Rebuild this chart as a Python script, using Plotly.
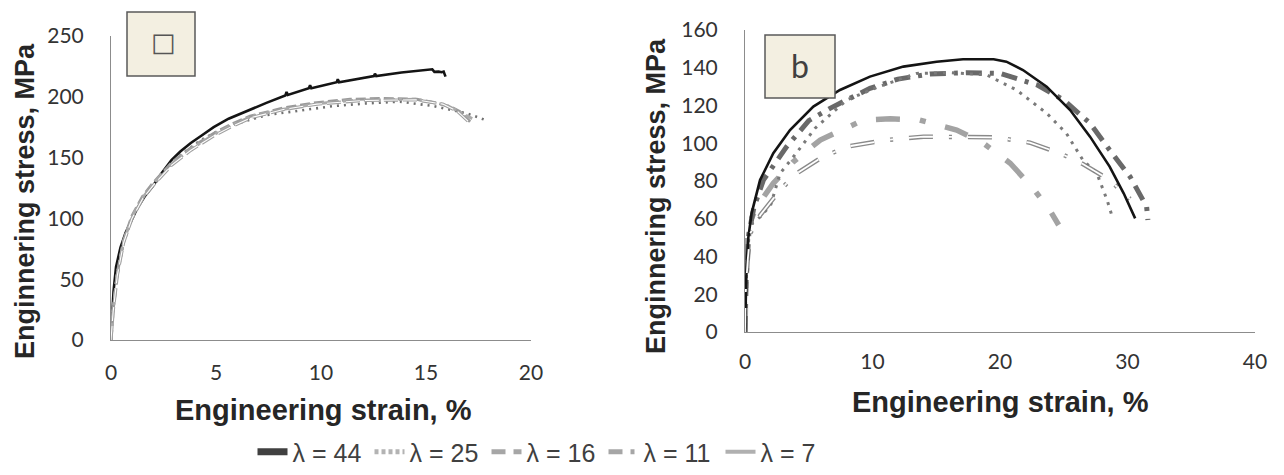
import plotly.graph_objects as go

# ---------------- data: panel (a) ----------------
a44_x = [0, 0.05, 0.12, 0.24, 0.45, 0.69, 1.0, 1.24, 1.6, 1.97, 2.4, 2.88, 3.3, 3.8, 4.3, 4.89, 5.6, 6.53, 7.4,
         8.3, 8.36, 8.42, 9.42, 9.48, 9.54, 10.75, 10.8, 10.86, 12.0, 12.52, 12.57, 12.63, 13.83, 14.6, 15.1,
         15.3, 15.4, 15.6, 15.75, 15.84, 15.93]
a44_y = [0, 20, 40, 60, 76, 88, 99, 108, 118, 126, 137, 148, 155, 162, 168, 175, 182, 189, 195,
         201, 204, 201.5, 207, 209.5, 207, 212, 214.5, 212, 215.5, 217, 219, 217, 220, 221.5, 222.6,
         222.6, 220.5, 220.7, 220.2, 220.7, 216.6]

a25_x = [0, 0.1, 0.3, 0.6, 1.0, 1.5, 2.0, 2.65, 3.3, 4.24, 5.0, 5.81, 7.41, 9.0, 10.6, 12.18, 13.76, 15.35,
         16.3, 16.94, 17.5, 17.9]
a25_y = [0, 25, 55, 80, 100, 116, 127, 140, 152, 164, 171, 177, 185, 189, 192.4, 194.6, 196, 192.4,
         189, 186.4, 183, 180.4]

a16_x = [0, 0.1, 0.3, 0.6, 1.0, 1.5, 2.0, 2.9, 3.8, 4.9, 5.8, 6.62, 8.21, 9.8, 11.38, 12.97, 14.56, 15.5,
         16.14, 16.6, 17.1]
a16_y = [0, 25, 55, 82, 102, 118, 129, 146, 158, 170, 178, 184, 190.8, 195.2, 197.9, 198.7, 197.9, 195,
         191.9, 188, 179.5]

a11_x = [0, 0.1, 0.3, 0.6, 1.0, 1.5, 2.0, 2.9, 3.8, 4.9, 5.8, 6.8, 8.3, 9.9, 11.4, 12.5, 14.5, 16.0,
         16.8, 17.2]
a11_y = [0, 24, 54, 81, 101, 117, 128, 145, 157, 169, 177, 184.5, 190, 194.5, 197, 197.5, 198, 193,
         186, 182]

a7_x = [0, 0.1, 0.3, 0.6, 1.0, 1.5, 2.0, 2.9, 3.8, 4.9, 5.8, 6.7, 8.2, 9.8, 12.0, 14.5, 15.8, 16.5, 17.0]
a7_y = [0, 23, 53, 80, 100, 116, 127, 144, 156, 168, 176, 183, 189.5, 194, 197, 197.5, 194, 188, 180]

# ---------------- data: panel (b) ----------------
b44_x = [0, 0.05, 0.13, 0.26, 0.52, 1.18, 2.22, 3.53, 5.36, 7.45, 9.8, 12.42, 15.03, 17.1, 19.5, 20.5,
         21.8, 23.66, 25.5, 27.06, 28.6, 29.7, 30.6]
b44_y = [0, 20, 36, 50, 63, 80.5, 94.7, 107, 119.4, 128.2, 135.3, 140.6, 143.2, 144.5, 144.5, 143.2,
         138.8, 130, 117.6, 103.5, 87.6, 73.5, 60.2]

b25_x = [0, 0.1, 0.3, 0.6, 1.2, 2.0, 2.75, 4.05, 5.5, 7.97, 10.5, 13.47, 16.1, 18.96, 21.3, 23.66, 25.2,
         26.5, 27.6, 28.4, 28.8]
b25_y = [0, 30, 50, 58, 61, 67, 84, 95, 108, 122.9, 130, 137, 137.4, 136.2, 128.2, 115.9, 105.3,
         91.1, 84, 69.9, 61.1]

b16_x = [0, 0.1, 0.3, 0.7, 1.44, 3.27, 5.0, 6.67, 9.8, 12.0, 14.5, 17.4, 20.0, 22.9, 25.0, 27.06, 28.6,
         30.2, 31.5, 31.6]
b16_y = [0, 30, 52, 66, 80.5, 98.2, 112, 118.5, 129.1, 134, 136.7, 137.4, 137, 130.9, 122.9, 110.6,
         96.4, 82.3, 66.4, 59.3]

b11_x = [0, 0.05, 0.13, 0.5, 0.92, 2.22, 3.79, 5.9, 9.28, 11.4, 13.7, 16.6, 18.7, 20.8, 22.6, 23.9, 24.6]
b11_y = [0, 25, 52, 60, 66.4, 78.8, 90.2, 101.7, 112.3, 113, 112.3, 107, 100, 89.4, 76.1, 64.6, 56.7]

b7_x = [0, 0.05, 0.2, 0.39, 1.2, 2.75, 4.05, 5.9, 7.97, 11.1, 14.0, 17.1, 19.7, 22.35, 24.7, 26.5,
        28.6, 30.2]
b7_y = [0, 20, 37, 52, 62, 75.2, 84, 92, 98.2, 101.7, 103.5, 103.1, 103.1, 100.3, 94.7, 89, 80.5, 70.5]

legend_names = ["λ = 44", "λ = 25", "λ = 16", "λ = 11", "λ = 7"]
a_ticks_x = [0, 5, 10, 15, 20]
a_ticks_y = [0, 50, 100, 150, 200, 250]
b_ticks_x = [0, 10, 20, 30, 40]
b_ticks_y = [0, 20, 40, 60, 80, 100, 120, 140, 160]

W, H = 1284, 475
OFF = 8  # page body margin offset


def px(x):
    return (x - OFF) / W


def py(y):
    return 1 - (y - OFF) / H


fig = go.Figure()

# panel a styles
a_styles = [
    (a44_x, a44_y, dict(color="#141414", width=2.6)),
    (a25_x, a25_y, dict(color="#707070", width=2.6, dash="2px,5px")),
    (a16_x, a16_y, dict(color="#9a9a9a", width=3, dash="10px,4px")),
    (a11_x, a11_y, dict(color="#ababab", width=3, dash="10px,4px,3px,4px")),
    (a7_x, a7_y, dict(color="#a0a0a0", width=3.2, dash="14px,5px")),
]
for xs, ys, ln in a_styles:
    fig.add_trace(go.Scatter(x=xs, y=ys, mode="lines", line=ln, showlegend=False,
                             xaxis="x", yaxis="y", hoverinfo="skip"))
fig.add_trace(go.Scatter(x=a7_x, y=a7_y, mode="lines", line=dict(color="white", width=1.1, dash="14px,5px"),
                         showlegend=False, xaxis="x", yaxis="y", hoverinfo="skip"))

# panel b styles
b_styles = [
    (b7_x, b7_y, dict(color="#8a8a8a", width=4.5, dash="24px,16px,3px,16px")),
    (b11_x, b11_y, dict(color="#a3a3a3", width=5.5, dash="24px,20px,6px,20px")),
    (b16_x, b16_y, dict(color="#696969", width=5, dash="16px,8px,4px,8px")),
    (b25_x, b25_y, dict(color="#7a7a7a", width=3, dash="3px,6px")),
    (b44_x, b44_y, dict(color="#141414", width=2.6)),
]
for xs, ys, ln in b_styles:
    fig.add_trace(go.Scatter(x=xs, y=ys, mode="lines", line=ln, showlegend=False,
                             xaxis="x2", yaxis="y2", hoverinfo="skip"))
fig.add_trace(go.Scatter(x=b7_x, y=b7_y, mode="lines",
                         line=dict(color="white", width=1.8, dash="24px,16px,3px,16px"),
                         showlegend=False, xaxis="x2", yaxis="y2", hoverinfo="skip"))

# legend-only entries
leg_lines = [
    dict(color="#404040", width=7),
    dict(color="#b3b3b3", width=5, dash="4px,3px"),
    dict(color="#a6a6a6", width=5, dash="14px,8px"),
    dict(color="#a6a6a6", width=5, dash="14px,8px,4px,8px"),
    dict(color="#b0b0b0", width=4),
]
for name, ln in zip(legend_names, leg_lines):
    fig.add_trace(go.Scatter(x=[None], y=[None], mode="lines", name=name, line=ln,
                             xaxis="x2", yaxis="y2"))

tickfont = dict(family="Lato, Open Sans, sans-serif", size=21, color="#333333")
axis_common = dict(showgrid=False, zeroline=False, showline=True, linecolor="#8c8c8c", linewidth=1,
                   ticks="", tickfont=tickfont, fixedrange=True, automargin=False)

fig.update_layout(
    width=W, height=H, margin=dict(l=0, r=0, t=0, b=0, pad=0, autoexpand=False),
    paper_bgcolor="white", plot_bgcolor="white",
    xaxis=dict(domain=[px(111), px(531)], range=[0, 20], tickvals=a_ticks_x, anchor="y",
               ticklabelstandoff=14, **axis_common),
    yaxis=dict(domain=[py(340), py(36)], range=[0, 250], tickvals=a_ticks_y, anchor="x",
               ticklabelstandoff=22, **axis_common),
    xaxis2=dict(domain=[px(745), px(1255)], range=[0, 40], tickvals=b_ticks_x, anchor="y2",
                ticklabelstandoff=11, **axis_common),
    yaxis2=dict(domain=[py(332), py(30)], range=[0, 160], tickvals=b_ticks_y, anchor="x2",
                ticklabelstandoff=22, **axis_common),
    legend=dict(orientation="h", x=px(545), xanchor="center", y=py(452), yanchor="middle",
                font=dict(family="Liberation Sans Narrow, Arial Narrow, sans-serif", size=25, color="#404040"),
                itemwidth=30, entrywidth=72, bgcolor="rgba(0,0,0,0)", tracegroupgap=0),
    showlegend=True,
)

title_font = dict(family="Liberation Sans, Arial, sans-serif", size=27, color="#262626", weight="bold")
xtitle_font = dict(title_font, size=29)
ann_common = dict(xref="paper", yref="paper", showarrow=False, xanchor="center", yanchor="middle")
fig.add_annotation(x=px(25), y=py(201), text="Enginnering stress, MPa", textangle=-90,
                   font=title_font, **ann_common)
fig.add_annotation(x=px(656), y=py(196), text="Enginnering stress, MPa", textangle=-90,
                   font=title_font, **ann_common)
fig.add_annotation(x=px(323), y=py(410), text="Engineering strain, %", font=xtitle_font, **ann_common)
fig.add_annotation(x=px(1000), y=py(402), text="Engineering strain, %", font=xtitle_font, **ann_common)

# panel label boxes
fig.add_shape(type="rect", xref="paper", yref="paper", x0=px(127), x1=px(195), y0=py(76), y1=py(12),
              fillcolor="#f3efe1", line=dict(color="#595959", width=1.5))
fig.add_shape(type="rect", xref="paper", yref="paper", x0=px(765), x1=px(835), y0=py(98), y1=py(35),
              fillcolor="#f3efe1", line=dict(color="#595959", width=1.5))
fig.add_annotation(x=px(163), y=py(42), text="□", font=dict(family="DejaVu Sans", size=26, color="#555555"),
                   **ann_common)
fig.add_annotation(x=px(800), y=py(65), text="b", font=dict(family="Lato, Open Sans, sans-serif", size=32,
                                                            color="#404040"), **ann_common)

fig.write_html("out.html")
